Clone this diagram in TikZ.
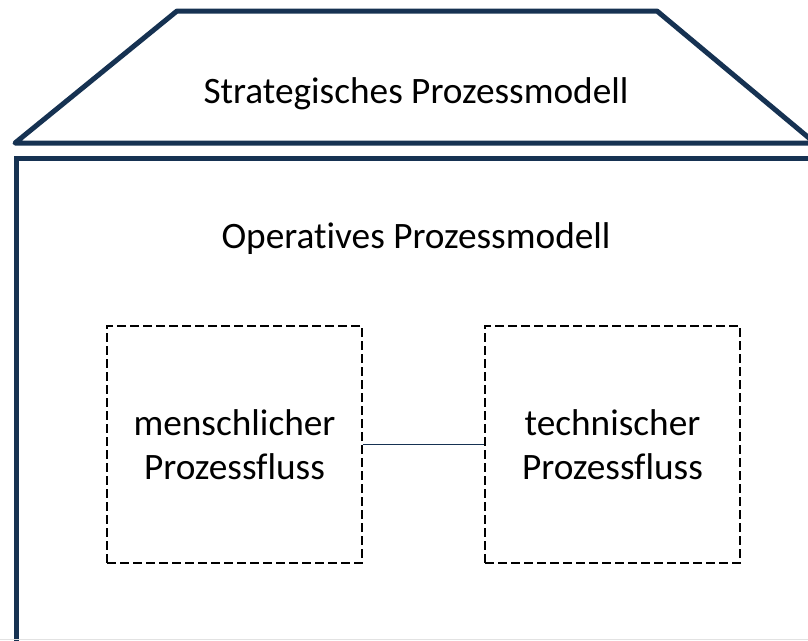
\documentclass[tikz,border=0pt]{standalone}
\usepackage{fontspec}
\setmainfont{Carlito}[Ligatures=NoCommon]
\definecolor{navy}{RGB}{22,50,82}
\definecolor{edgegray}{RGB}{226,226,226}
\begin{document}
\begin{tikzpicture}[x=1pt,y=-1pt,
  housewall/.style={draw=navy,line width=5pt},
  flowbox/.style={draw=black,line width=1.4pt,dash pattern=on 9pt off 4pt,
    minimum width=255pt,minimum height=237pt,inner sep=0pt,
    align=center,font=\fontsize{37.3}{44}\selectfont},
  title/.style={font=\fontsize{37.3}{44}\selectfont,text=black},
  link/.style={draw=navy,line width=1.5pt}]
\useasboundingbox (0,0) rectangle (808,640);
\clip (0,0) rectangle (808,640);
% roof
\draw[housewall,line join=round] (177,11) -- (657,11) -- (815,143) -- (15,143) -- cycle;
\node[title] (strat) at (416,94) {Strategisches Prozessmodell};
% body
\draw[housewall] (16.5,680) -- (16.5,158) -- (840,158);
\node[title] (oper) at (416,239) {Operatives Prozessmodell};
% process flows
\node[flowbox] (human) at (234.5,444.5) {menschlicher\\Prozessfluss};
\node[flowbox] (tech) at (612.5,444.5) {technischer\\Prozessfluss};
\draw[link] (human.east) -- (tech.west);
% thin frame line along the lower edge
\draw[edgegray,line width=1pt] (0,639.5) -- (808,639.5);
\end{tikzpicture}
\end{document}
